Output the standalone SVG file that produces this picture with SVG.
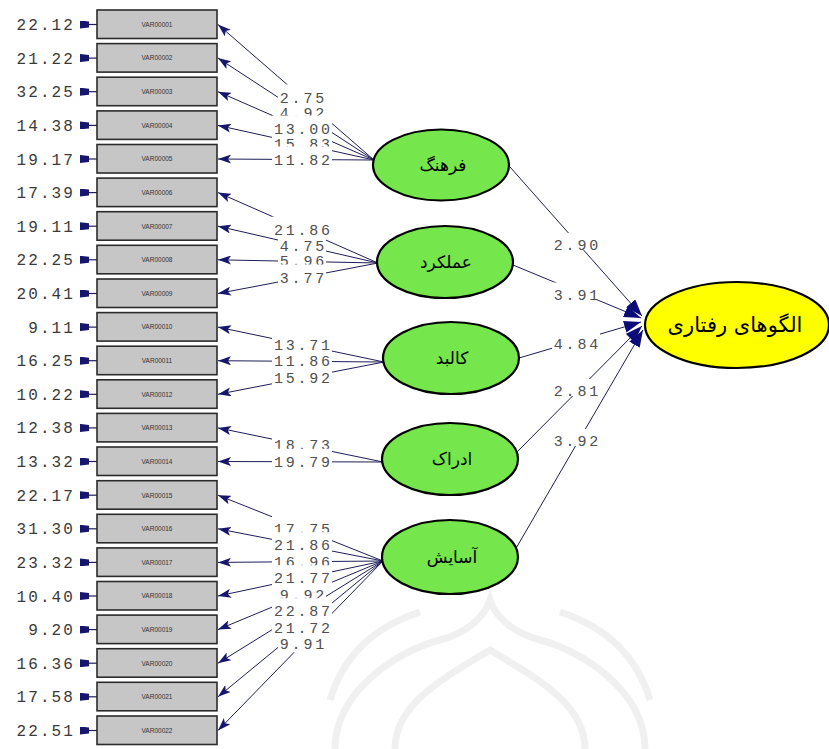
<svg xmlns="http://www.w3.org/2000/svg" width="829" height="749" viewBox="0 0 829 749">
<style>
.bx{fill:#c6c6c6;stroke:#2b2b2b;stroke-width:1.6}
.bt{font-family:"Liberation Sans",Arial,sans-serif;font-size:6.5px;fill:#333;text-anchor:middle}
.ev{font-family:"Liberation Mono","Courier New",monospace;font-size:16px;letter-spacing:2.1px;fill:#3a3a3a;text-anchor:end}
.lb{font-family:"Liberation Mono","Courier New",monospace;font-size:15px;letter-spacing:2.8px;fill:#505050;text-anchor:middle}
.bg{fill:#fff}
.ln{stroke:#1e1e5a;stroke-width:1;fill:none}
.er{stroke:#1e1e5a;stroke-width:1.2;fill:none}
.gr{fill:#75e64c;stroke:#000;stroke-width:2.2}
.ye{fill:#ffff00;stroke:#000;stroke-width:2.2}
.fa{font-family:"DejaVu Sans",sans-serif;font-size:17px;fill:#000;text-anchor:middle}
.fy{font-family:"DejaVu Sans",sans-serif;font-size:21px;fill:#000;text-anchor:middle}
.wm{stroke:#f0f0f0;stroke-width:7;fill:none}
</style>
<defs>
<marker id="ah" markerUnits="userSpaceOnUse" markerWidth="13" markerHeight="9" refX="13" refY="4.5" orient="auto"><path d="M0,0 L13,4.5 L0,9 L3,4.5 z" fill="#16166e"/></marker>
<marker id="eh" markerUnits="userSpaceOnUse" markerWidth="9" markerHeight="8" refX="9" refY="4" orient="auto"><path d="M0,1 L9,0 L9,8 L0,7 z" fill="#16166e"/></marker>
<marker id="bh" markerUnits="userSpaceOnUse" markerWidth="17" markerHeight="12" refX="17" refY="6" orient="auto"><path d="M0,0 L17,6 L0,12 z" fill="#0c0c78"/></marker>
</defs>
<rect width="829" height="749" fill="#fff"/>
<g id="watermark">
<path class="wm" d="M335 749 C335 690 400 650 440 640 C470 632 485 615 490 600 C495 615 510 632 540 640 C580 650 645 690 645 749"/>
<path class="wm" d="M395 749 C395 705 440 680 490 650 C540 680 585 705 585 749"/>
<path class="wm" d="M330 700 C345 650 380 625 420 612"/>
<path class="wm" d="M560 612 C600 625 635 650 650 700"/>
</g>
<g id="connectors">
<g id="errors">
<line class="er" x1="97" y1="24.5" x2="80" y2="24.5" marker-end="url(#eh)"/>
<line class="er" x1="97" y1="58.1" x2="80" y2="58.1" marker-end="url(#eh)"/>
<line class="er" x1="97" y1="91.7" x2="80" y2="91.7" marker-end="url(#eh)"/>
<line class="er" x1="97" y1="125.4" x2="80" y2="125.4" marker-end="url(#eh)"/>
<line class="er" x1="97" y1="159" x2="80" y2="159" marker-end="url(#eh)"/>
<line class="er" x1="97" y1="192.6" x2="80" y2="192.6" marker-end="url(#eh)"/>
<line class="er" x1="97" y1="226.2" x2="80" y2="226.2" marker-end="url(#eh)"/>
<line class="er" x1="97" y1="259.8" x2="80" y2="259.8" marker-end="url(#eh)"/>
<line class="er" x1="97" y1="293.5" x2="80" y2="293.5" marker-end="url(#eh)"/>
<line class="er" x1="97" y1="327.1" x2="80" y2="327.1" marker-end="url(#eh)"/>
<line class="er" x1="97" y1="360.7" x2="80" y2="360.7" marker-end="url(#eh)"/>
<line class="er" x1="97" y1="394.3" x2="80" y2="394.3" marker-end="url(#eh)"/>
<line class="er" x1="97" y1="427.9" x2="80" y2="427.9" marker-end="url(#eh)"/>
<line class="er" x1="97" y1="461.5" x2="80" y2="461.5" marker-end="url(#eh)"/>
<line class="er" x1="97" y1="495.2" x2="80" y2="495.2" marker-end="url(#eh)"/>
<line class="er" x1="97" y1="528.8" x2="80" y2="528.8" marker-end="url(#eh)"/>
<line class="er" x1="97" y1="562.4" x2="80" y2="562.4" marker-end="url(#eh)"/>
<line class="er" x1="97" y1="596" x2="80" y2="596" marker-end="url(#eh)"/>
<line class="er" x1="97" y1="629.6" x2="80" y2="629.6" marker-end="url(#eh)"/>
<line class="er" x1="97" y1="663.2" x2="80" y2="663.2" marker-end="url(#eh)"/>
<line class="er" x1="97" y1="696.8" x2="80" y2="696.8" marker-end="url(#eh)"/>
<line class="er" x1="97" y1="730.5" x2="80" y2="730.5" marker-end="url(#eh)"/>
<text class="ev" x="75" y="30">22.12</text>
<text class="ev" x="75" y="63.6">21.22</text>
<text class="ev" x="75" y="97.2">32.25</text>
<text class="ev" x="75" y="130.9">14.38</text>
<text class="ev" x="75" y="164.5">19.17</text>
<text class="ev" x="75" y="198.1">17.39</text>
<text class="ev" x="75" y="231.7">19.11</text>
<text class="ev" x="75" y="265.3">22.25</text>
<text class="ev" x="75" y="299">20.41</text>
<text class="ev" x="75" y="332.6">9.11</text>
<text class="ev" x="75" y="366.2">16.25</text>
<text class="ev" x="75" y="399.8">10.22</text>
<text class="ev" x="75" y="433.4">12.38</text>
<text class="ev" x="75" y="467">13.32</text>
<text class="ev" x="75" y="500.7">22.17</text>
<text class="ev" x="75" y="534.3">31.30</text>
<text class="ev" x="75" y="567.9">23.32</text>
<text class="ev" x="75" y="601.5">10.40</text>
<text class="ev" x="75" y="635.1">9.20</text>
<text class="ev" x="75" y="668.7">16.36</text>
<text class="ev" x="75" y="702.3">17.58</text>
<text class="ev" x="75" y="736">22.51</text>
</g>
<g id="loadings">
<line class="ln" x1="374" y1="160" x2="218" y2="24.5" marker-end="url(#ah)"/>
<line class="ln" x1="374" y1="160" x2="218" y2="58.1" marker-end="url(#ah)"/>
<line class="ln" x1="374" y1="160" x2="218" y2="91.7" marker-end="url(#ah)"/>
<line class="ln" x1="374" y1="160" x2="218" y2="125.4" marker-end="url(#ah)"/>
<line class="ln" x1="374" y1="160" x2="218" y2="159" marker-end="url(#ah)"/>
<line class="ln" x1="378" y1="263" x2="218" y2="192.6" marker-end="url(#ah)"/>
<line class="ln" x1="378" y1="263" x2="218" y2="226.2" marker-end="url(#ah)"/>
<line class="ln" x1="378" y1="263" x2="218" y2="259.8" marker-end="url(#ah)"/>
<line class="ln" x1="378" y1="263" x2="218" y2="293.5" marker-end="url(#ah)"/>
<line class="ln" x1="384" y1="362" x2="218" y2="327.1" marker-end="url(#ah)"/>
<line class="ln" x1="384" y1="362" x2="218" y2="360.7" marker-end="url(#ah)"/>
<line class="ln" x1="384" y1="362" x2="218" y2="394.3" marker-end="url(#ah)"/>
<line class="ln" x1="383" y1="462" x2="218" y2="427.9" marker-end="url(#ah)"/>
<line class="ln" x1="383" y1="462" x2="218" y2="461.5" marker-end="url(#ah)"/>
<line class="ln" x1="383" y1="561" x2="218" y2="495.2" marker-end="url(#ah)"/>
<line class="ln" x1="383" y1="561" x2="218" y2="528.8" marker-end="url(#ah)"/>
<line class="ln" x1="383" y1="561" x2="218" y2="562.4" marker-end="url(#ah)"/>
<line class="ln" x1="383" y1="561" x2="218" y2="596" marker-end="url(#ah)"/>
<line class="ln" x1="383" y1="561" x2="218" y2="629.6" marker-end="url(#ah)"/>
<line class="ln" x1="383" y1="561" x2="218" y2="663.2" marker-end="url(#ah)"/>
<line class="ln" x1="383" y1="561" x2="218" y2="696.8" marker-end="url(#ah)"/>
<line class="ln" x1="383" y1="561" x2="218" y2="730.5" marker-end="url(#ah)"/>
<rect class="bg" x="278" y="100" width="48" height="21"/><text class="lb" x="303.4" y="118">4.92</text>
<rect class="bg" x="272" y="131" width="60" height="21"/><text class="lb" x="303.4" y="149">15.83</text>
<rect class="bg" x="272" y="146.5" width="60" height="21"/><text class="lb" x="303.4" y="164.5">11.82</text>
<rect class="bg" x="272" y="115.5" width="60" height="21"/><text class="lb" x="303.4" y="133.5">13.00</text>
<rect class="bg" x="278" y="84.5" width="48" height="21"/><text class="lb" x="303.4" y="102.5">2.75</text>
<rect class="bg" x="278" y="248.4" width="48" height="21"/><text class="lb" x="303.4" y="266.4">5.96</text>
<rect class="bg" x="278" y="264.5" width="48" height="21"/><text class="lb" x="303.4" y="282.5">3.77</text>
<rect class="bg" x="278" y="232.5" width="48" height="21"/><text class="lb" x="303.4" y="250.5">4.75</text>
<rect class="bg" x="272" y="216.6" width="60" height="21"/><text class="lb" x="303.4" y="234.6">21.86</text>
<rect class="bg" x="272" y="365" width="60" height="21"/><text class="lb" x="303.4" y="383">15.92</text>
<rect class="bg" x="272" y="348.4" width="60" height="21"/><text class="lb" x="303.4" y="366.4">11.86</text>
<rect class="bg" x="272" y="331.8" width="60" height="21"/><text class="lb" x="303.4" y="349.8">13.71</text>
<rect class="bg" x="272" y="432.3" width="60" height="21"/><text class="lb" x="303.4" y="450.3">18.73</text>
<rect class="bg" x="272" y="448.8" width="60" height="21"/><text class="lb" x="303.4" y="466.8">19.79</text>
<rect class="bg" x="272" y="515.7" width="60" height="21"/><text class="lb" x="303.4" y="533.7">17.75</text>
<rect class="bg" x="272" y="548.7" width="60" height="21"/><text class="lb" x="303.4" y="566.7">16.96</text>
<rect class="bg" x="278" y="581.7" width="48" height="21"/><text class="lb" x="303.4" y="599.7">9.92</text>
<rect class="bg" x="278" y="631.2" width="48" height="21"/><text class="lb" x="303.4" y="649.2">9.91</text>
<rect class="bg" x="272" y="614.7" width="60" height="21"/><text class="lb" x="303.4" y="632.7">21.72</text>
<rect class="bg" x="272" y="598.2" width="60" height="21"/><text class="lb" x="303.4" y="616.2">22.87</text>
<rect class="bg" x="272" y="565.2" width="60" height="21"/><text class="lb" x="303.4" y="583.2">21.77</text>
<rect class="bg" x="272" y="532.2" width="60" height="21"/><text class="lb" x="303.4" y="550.2">21.86</text>
</g>
<g id="structural">
<line class="ln" x1="510" y1="167" x2="642" y2="316" marker-end="url(#bh)"/>
<line class="ln" x1="513" y1="265" x2="641" y2="318" marker-end="url(#bh)"/>
<line class="ln" x1="519" y1="358" x2="641" y2="322" marker-end="url(#bh)"/>
<line class="ln" x1="517" y1="452" x2="642" y2="326" marker-end="url(#bh)"/>
<line class="ln" x1="515" y1="550" x2="643" y2="330" marker-end="url(#bh)"/>
<rect class="bg" x="552" y="233" width="48" height="17"/><text class="lb" x="577.4" y="250">2.90</text>
<rect class="bg" x="552" y="282.5" width="48" height="17"/><text class="lb" x="577.4" y="299.5">3.91</text>
<rect class="bg" x="552" y="332" width="48" height="17"/><text class="lb" x="577.4" y="349">4.84</text>
<rect class="bg" x="552" y="379" width="48" height="17"/><text class="lb" x="577.4" y="396">2.81</text>
<rect class="bg" x="552" y="429" width="48" height="17"/><text class="lb" x="577.4" y="446">3.92</text>
</g>
</g>
<g id="VAR00001"><rect class="bx" x="97" y="10" width="120" height="28.5"/><text class="bt" x="157" y="26.8">VAR00001</text></g>
<g id="VAR00002"><rect class="bx" x="97" y="43.6" width="120" height="28.5"/><text class="bt" x="157" y="60.4">VAR00002</text></g>
<g id="VAR00003"><rect class="bx" x="97" y="77.2" width="120" height="28.5"/><text class="bt" x="157" y="94">VAR00003</text></g>
<g id="VAR00004"><rect class="bx" x="97" y="110.9" width="120" height="28.5"/><text class="bt" x="157" y="127.7">VAR00004</text></g>
<g id="VAR00005"><rect class="bx" x="97" y="144.5" width="120" height="28.5"/><text class="bt" x="157" y="161.3">VAR00005</text></g>
<g id="VAR00006"><rect class="bx" x="97" y="178.1" width="120" height="28.5"/><text class="bt" x="157" y="194.9">VAR00006</text></g>
<g id="VAR00007"><rect class="bx" x="97" y="211.7" width="120" height="28.5"/><text class="bt" x="157" y="228.5">VAR00007</text></g>
<g id="VAR00008"><rect class="bx" x="97" y="245.3" width="120" height="28.5"/><text class="bt" x="157" y="262.1">VAR00008</text></g>
<g id="VAR00009"><rect class="bx" x="97" y="279" width="120" height="28.5"/><text class="bt" x="157" y="295.8">VAR00009</text></g>
<g id="VAR00010"><rect class="bx" x="97" y="312.6" width="120" height="28.5"/><text class="bt" x="157" y="329.4">VAR00010</text></g>
<g id="VAR00011"><rect class="bx" x="97" y="346.2" width="120" height="28.5"/><text class="bt" x="157" y="363">VAR00011</text></g>
<g id="VAR00012"><rect class="bx" x="97" y="379.8" width="120" height="28.5"/><text class="bt" x="157" y="396.6">VAR00012</text></g>
<g id="VAR00013"><rect class="bx" x="97" y="413.4" width="120" height="28.5"/><text class="bt" x="157" y="430.2">VAR00013</text></g>
<g id="VAR00014"><rect class="bx" x="97" y="447" width="120" height="28.5"/><text class="bt" x="157" y="463.8">VAR00014</text></g>
<g id="VAR00015"><rect class="bx" x="97" y="480.7" width="120" height="28.5"/><text class="bt" x="157" y="497.5">VAR00015</text></g>
<g id="VAR00016"><rect class="bx" x="97" y="514.3" width="120" height="28.5"/><text class="bt" x="157" y="531.1">VAR00016</text></g>
<g id="VAR00017"><rect class="bx" x="97" y="547.9" width="120" height="28.5"/><text class="bt" x="157" y="564.7">VAR00017</text></g>
<g id="VAR00018"><rect class="bx" x="97" y="581.5" width="120" height="28.5"/><text class="bt" x="157" y="598.3">VAR00018</text></g>
<g id="VAR00019"><rect class="bx" x="97" y="615.1" width="120" height="28.5"/><text class="bt" x="157" y="631.9">VAR00019</text></g>
<g id="VAR00020"><rect class="bx" x="97" y="648.7" width="120" height="28.5"/><text class="bt" x="157" y="665.5">VAR00020</text></g>
<g id="VAR00021"><rect class="bx" x="97" y="682.3" width="120" height="28.5"/><text class="bt" x="157" y="699.1">VAR00021</text></g>
<g id="VAR00022"><rect class="bx" x="97" y="716" width="120" height="28.5"/><text class="bt" x="157" y="732.8">VAR00022</text></g>
<g id="farhang"><ellipse class="gr" cx="441" cy="165" rx="68" ry="35.5"/><text class="fa" x="443" y="171">فرهنگ</text></g>
<g id="amalkard"><ellipse class="gr" cx="445" cy="262" rx="68" ry="36"/><text class="fa" x="446" y="268">عملکرد</text></g>
<g id="kalbad"><ellipse class="gr" cx="451" cy="358" rx="68" ry="36"/><text class="fa" x="452" y="364">کالبد</text></g>
<g id="edrak"><ellipse class="gr" cx="450" cy="459" rx="68" ry="36"/><text class="fa" x="452" y="465">ادراک</text></g>
<g id="asayesh"><ellipse class="gr" cx="450" cy="557" rx="68" ry="37"/><text class="fa" x="452" y="563">آسایش</text></g>
<g id="olgoha"><ellipse class="ye" cx="737" cy="325" rx="92" ry="43"/><text class="fy" x="735" y="332">الگوهای رفتاری</text></g>
</svg>
